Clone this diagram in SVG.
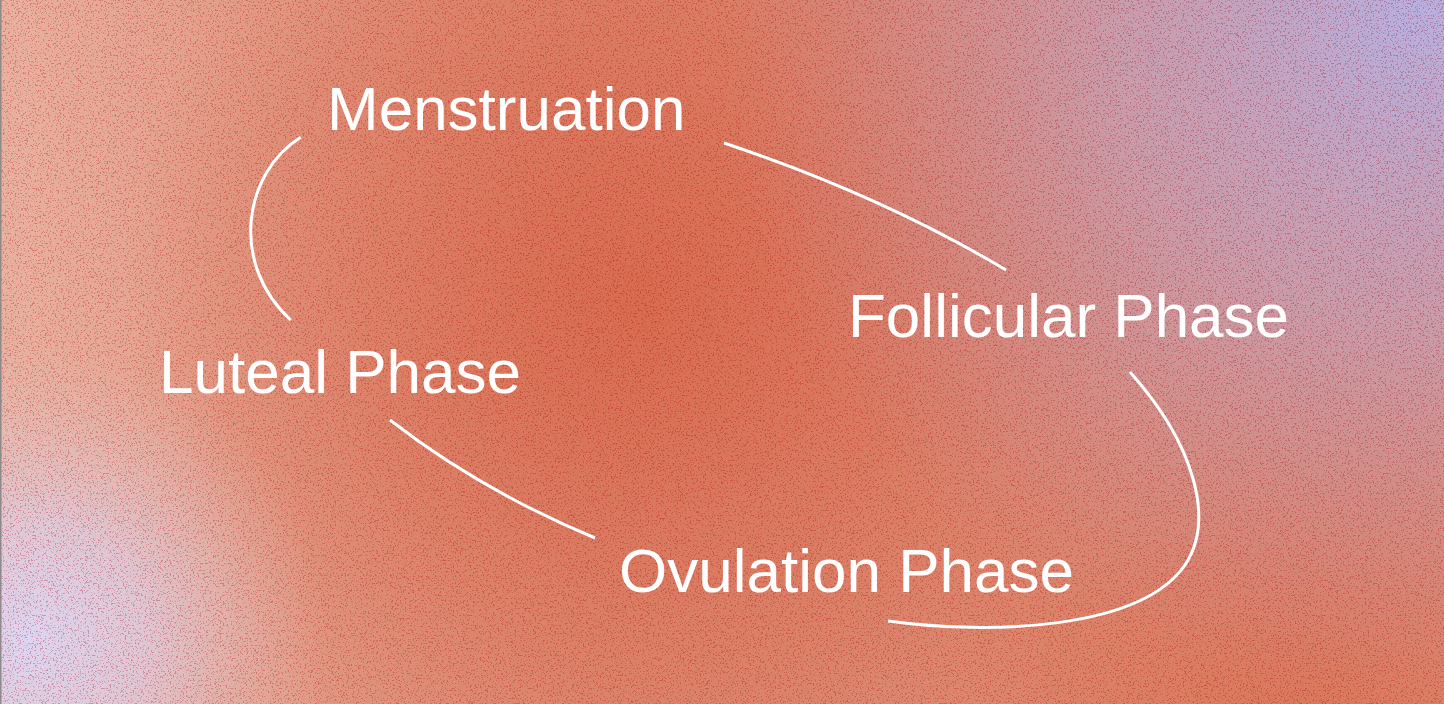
<svg xmlns="http://www.w3.org/2000/svg" width="1444" height="704" viewBox="0 0 1444 704">
  <defs>
    <style>
      .label { font-family: "Liberation Sans", Arial, sans-serif; font-size: 62px; fill: #ffffff; }
      .conn { fill: none; stroke: #ffffff; stroke-width: 3; stroke-linecap: butt; }
    </style>
    <linearGradient id="leftLight" x1="0" y1="0" x2="1" y2="0">
      <stop offset="0" stop-color="#e8b2a0" stop-opacity="1"/>
      <stop offset="0.42" stop-color="#e4a28c" stop-opacity="0"/>
    </linearGradient>
    <radialGradient id="core" cx="640" cy="300" r="520" gradientUnits="userSpaceOnUse">
      <stop offset="0" stop-color="#d86c50" stop-opacity="1"/>
      <stop offset="1" stop-color="#d86c50" stop-opacity="0"/>
    </radialGradient>
    <radialGradient id="lavTR" cx="1420" cy="10" r="700" gradientUnits="userSpaceOnUse">
      <stop offset="0" stop-color="#b8b0e0" stop-opacity="1"/>
      <stop offset="0.45" stop-color="#c3a2bc" stop-opacity="0.75"/>
      <stop offset="1" stop-color="#c9909c" stop-opacity="0"/>
    </radialGradient>
    <radialGradient id="lavBL" cx="30" cy="640" r="300" gradientUnits="userSpaceOnUse">
      <stop offset="0" stop-color="#dcd6f2" stop-opacity="1"/>
      <stop offset="0.4" stop-color="#ded0e6" stop-opacity="0.75"/>
      <stop offset="1" stop-color="#e2c0b8" stop-opacity="0"/>
    </radialGradient>
    <radialGradient id="brBot" cx="1300" cy="720" r="400" gradientUnits="userSpaceOnUse">
      <stop offset="0" stop-color="#da7658" stop-opacity="0.9"/>
      <stop offset="1" stop-color="#da7658" stop-opacity="0"/>
    </radialGradient>
    <filter id="grain" filterUnits="userSpaceOnUse" x="0" y="0" width="1444" height="704" color-interpolation-filters="sRGB">
      <feTurbulence type="fractalNoise" baseFrequency="0.6" numOctaves="2" seed="7" result="n"/>
      <feColorMatrix in="n" type="matrix" values="0 0 0 0 0  0 0 0 0 0  0 0 0 0 0  12 0 0 0 -7.0" result="a"/>
      <feComponentTransfer in="SourceGraphic" result="dark">
        <feFuncR type="linear" slope="0.93"/>
        <feFuncG type="linear" slope="0.7"/>
        <feFuncB type="linear" slope="0.74"/>
      </feComponentTransfer>
      <feComposite in="dark" in2="a" operator="in" result="speck"/>
      <feMerge>
        <feMergeNode in="SourceGraphic"/>
        <feMergeNode in="speck"/>
      </feMerge>
    </filter>
  </defs>

  <g id="background" filter="url(#grain)">
    <rect x="0" y="0" width="1444" height="704" fill="#dc8a72"/>
    <rect x="0" y="0" width="1444" height="704" fill="url(#leftLight)"/>
    <rect x="0" y="0" width="1444" height="704" fill="url(#core)"/>
    <rect x="0" y="0" width="1444" height="704" fill="url(#brBot)"/>
    <rect x="0" y="0" width="1444" height="704" fill="url(#lavTR)"/>
    <rect x="0" y="0" width="1444" height="704" fill="url(#lavBL)"/>
  </g>
  <rect x="0" y="0" width="1.5" height="704" fill="#8e8a8c"/>

  <g id="connectors">
    <path class="conn" d="M300.7,137.3 C245,172 228,262 290.7,320"/>
    <path class="conn" d="M724,143 Q880,195 1006,270"/>
    <path class="conn" d="M1130,372 C1195,445 1215,520 1185,565 C1140,630 990,635 888,621"/>
    <path class="conn" d="M390,420 Q480,490 595,538"/>
  </g>

  <g id="node-menstruation"><text class="label" x="327" y="130">Menstruation</text></g>
  <g id="node-follicular"><text class="label" x="848" y="337">Follicular Phase</text></g>
  <g id="node-luteal"><text class="label" x="159" y="393">Luteal Phase</text></g>
  <g id="node-ovulation"><text class="label" x="619" y="592">Ovulation Phase</text></g>
</svg>
